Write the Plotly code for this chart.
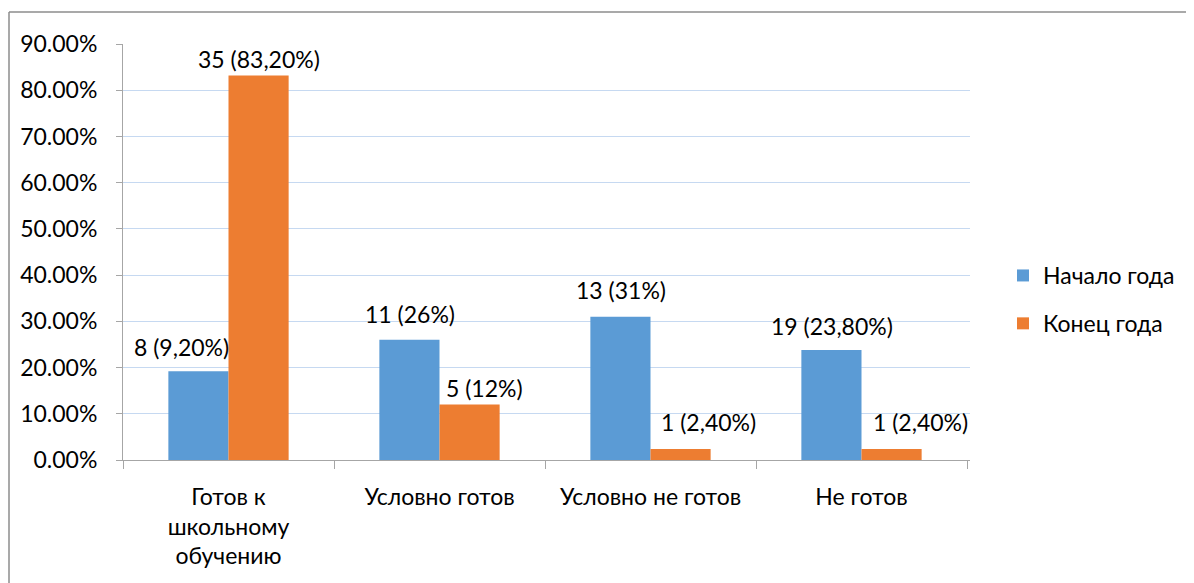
import plotly.graph_objects as go

categories = ["Готов к<br>школьному<br>обучению", "Условно готов", "Условно не готов", "Не готов"]
series_names = ["Начало года", "Конец года"]
start_values = [19.2, 26, 31, 23.8]
end_values = [83.2, 12, 2.4, 2.4]
start_labels = ["8 (9,20%)", "11 (26%)", "13 (31%)", "19 (23,80%)"]
end_labels = ["35 (83,20%)", "5 (12%)", "1 (2,40%)", "1 (2,40%)"]
y_ticks = [0, 10, 20, 30, 40, 50, 60, 70, 80, 90]
y_ticktext = [f"{v:.2f}%" for v in y_ticks]

# label placement offsets (styling, in px)
start_label_dx = [-17, 0, 0, 0]
start_label_dy = [24, 26, 27, 24]
end_label_dx = [0, 15, 28, 29]
end_label_dy = [16, 17, 27, 27]

colors = ["#5b9bd5", "#ed7d31"]
FONT = "Lato"
FS = 23

OFF = 8  # browser body margin
W, H = 1194 - OFF, 583 - OFF
L, R, T, B = 123 - OFF, 970 - OFF, 44 - OFF, 460 - OFF
pw, ph = R - L, B - T


def px_x(p):
    return (p - OFF - L) / pw


def px_y(p):
    return (B - (p - OFF)) / ph


fig = go.Figure()
fig.add_trace(go.Bar(x=categories, y=start_values, name=series_names[0],
                     marker=dict(color=colors[0], line=dict(width=0)),
                     legendgroup="a"))
fig.add_trace(go.Bar(x=categories, y=end_values, name=series_names[1],
                     marker=dict(color=colors[1], line=dict(width=0)),
                     legendgroup="b"))

annotations = []
for cat, v, lab, dx, dy in zip(categories, start_values, start_labels, start_label_dx, start_label_dy):
    annotations.append(dict(x=cat, y=v, text=lab, showarrow=False, xref="x", yref="y",
                            xshift=-30 + dx, yshift=dy, yanchor="middle",
                            font=dict(family=FONT, size=FS, color="#000")))
for cat, v, lab, dx, dy in zip(categories, end_values, end_labels, end_label_dx, end_label_dy):
    annotations.append(dict(x=cat, y=v, text=lab, showarrow=False, xref="x", yref="y",
                            xshift=30 + dx, yshift=dy, yanchor="middle",
                            font=dict(family=FONT, size=FS, color="#000")))

shapes = [
    dict(type="line", xref="paper", yref="paper", x0=px_x(9), x1=px_x(1194), y0=px_y(12), y1=px_y(12),
         line=dict(color="#8c8c8c", width=1.5)),
    dict(type="line", xref="paper", yref="paper", x0=px_x(9), x1=px_x(9), y0=px_y(12), y1=px_y(583),
         line=dict(color="#8c8c8c", width=1.5)),
]

fig.update_layout(
    width=W, height=H,
    margin=dict(l=L, r=W - R, t=T, b=H - B),
    paper_bgcolor="white", plot_bgcolor="white",
    barmode="group", bargap=0.43, bargroupgap=0,
    font=dict(family=FONT, size=FS, color="#000"),
    annotations=annotations, shapes=shapes,
    legend=dict(x=px_x(1003), y=px_y(254), xanchor="left", yanchor="top",
                font=dict(family=FONT, size=FS), tracegroupgap=15,
                bgcolor="rgba(0,0,0,0)"),
    xaxis=dict(showline=True, linecolor="#a6a6a6", linewidth=1, ticks="outside",
               tickson="boundaries", ticklen=8, tickcolor="#a6a6a6",
               showgrid=False, tickfont=dict(family=FONT, size=FS), ticklabelstandoff=16),
    yaxis=dict(range=[0, 90], tickvals=y_ticks, ticktext=y_ticktext,
               showline=True, linecolor="#a6a6a6", ticks="outside", ticklen=6,
               tickcolor="#a6a6a6", gridcolor="#c6d9f1", gridwidth=1, zeroline=False,
               tickfont=dict(family=FONT, size=FS), ticklabelstandoff=14),
)

fig.write_html("out.html")
